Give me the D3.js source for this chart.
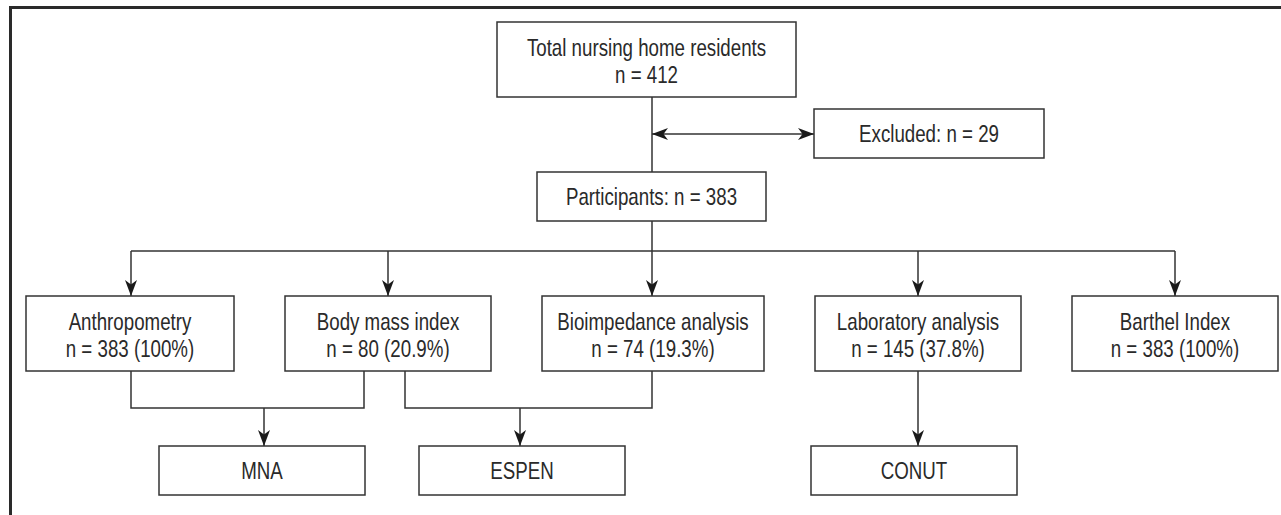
<!DOCTYPE html>
<html>
<head>
<meta charset="utf-8">
<script src="https://cdn.jsdelivr.net/npm/d3@7"></script>
<style>
  body { margin: 0; background: #fff; }
  text { font-family: "Liberation Sans", Arial, sans-serif; fill: #2a2a2a; }
</style>
</head>
<body>
<div id="chart"></div>
<script>
// Flow chart values
var totalResidents = 412;
var excludedCount = 29;
var participantCount = 383;

var methodLabels = ["Anthropometry", "Body mass index", "Bioimpedance analysis", "Laboratory analysis", "Barthel Index"];
var methodN = [383, 80, 74, 145, 383];
var methodPct = ["100%", "20.9%", "19.3%", "37.8%", "100%"];

var toolLabels = ["MNA", "ESPEN", "CONUT"];

// Layout
var width = 1281, height = 515;
var stroke = "#333";

var svg = d3.select("#chart")
            .append("svg")
            .attr("width", width)
            .attr("height", height);

// arrow head marker (notched, like the original)
svg.append("defs").append("marker")
   .attr("id", "head")
   .attr("viewBox", "0 0 16 12")
   .attr("refX", 16)
   .attr("refY", 6)
   .attr("markerWidth", 16)
   .attr("markerHeight", 12)
   .attr("markerUnits", "userSpaceOnUse")
   .attr("orient", "auto-start-reverse")
   .append("path")
   .attr("d", "M0,0 L16,6 L0,12 L4.5,6 Z")
   .attr("fill", "#1a1a1a");

// outer frame (runs off the right and bottom of the picture)
svg.append("path")
   .attr("d", "M10.5,515 V7.5 H1281")
   .attr("fill", "none")
   .attr("stroke", "#2a2a2a")
   .attr("stroke-width", 3);

function box(x, y, w, h, lines) {
    var g = svg.append("g");
    g.append("rect")
     .attr("x", x).attr("y", y)
     .attr("width", w).attr("height", h)
     .attr("fill", "#fff")
     .attr("stroke", stroke)
     .attr("stroke-width", 1.5);
    var first = lines.length === 1 ? h / 2 + 8.5 : 34;
    lines.forEach(function(t, i) {
        // condensed face: squeeze a regular sans horizontally
        g.append("text")
         .attr("transform", "translate(" + (x + w / 2) + "," + (y + first + i * 27) + ") scale(0.78,1)")
         .attr("text-anchor", "middle")
         .style("font-size", "24px")
         .text(t);
    });
}

function line(points, arrowStart, arrowEnd) {
    var p = svg.append("path")
       .attr("d", d3.line()(points))
       .attr("fill", "none")
       .attr("stroke", stroke)
       .attr("stroke-width", 1.5);
    if (arrowEnd) p.attr("marker-end", "url(#head)");
    if (arrowStart) p.attr("marker-start", "url(#head)");
}

var stemX = 652;

// top part
box(497, 22, 299, 75, ["Total nursing home residents", "n = " + totalResidents]);
line([[stemX, 97], [stemX, 172]]);
line([[stemX, 134], [814, 134]], true, true);
box(814, 109, 230, 49, ["Excluded: n = " + excludedCount]);
box(537, 172, 229, 49, ["Participants: n = " + participantCount]);

// method boxes
var methodBoxX = [26, 285, 542, 815, 1072];
var methodBoxW = [208, 206, 222, 206, 206];
var methodCx = [131, 388, 652, 918, 1175];
var rowTop = 296, rowH = 75;

line([[stemX, 221], [stemX, 251]]);
line([[methodCx[0], 251], [methodCx[4], 251]]);
methodLabels.forEach(function(label, i) {
    line([[methodCx[i], 251], [methodCx[i], rowTop]], false, true);
    box(methodBoxX[i], rowTop, methodBoxW[i], rowH,
        [label, "n = " + methodN[i] + " (" + methodPct[i] + ")"]);
});

// brackets to the screening tools
var rowBottom = rowTop + rowH, bracketY = 408, toolTop = 446, toolH = 49;
line([[131, rowBottom], [131, bracketY], [364, bracketY], [364, rowBottom]]);
line([[264, bracketY], [264, toolTop]], false, true);
line([[405, rowBottom], [405, bracketY], [652, bracketY], [652, rowBottom]]);
line([[520, bracketY], [520, toolTop]], false, true);
line([[918, rowBottom], [918, toolTop]], false, true);

var toolBoxX = [159, 419, 811];
toolLabels.forEach(function(label, i) {
    box(toolBoxX[i], toolTop, 206, toolH, [label]);
});
</script>
</body>
</html>
